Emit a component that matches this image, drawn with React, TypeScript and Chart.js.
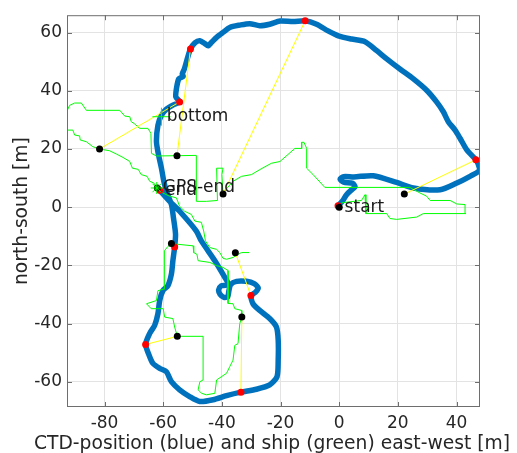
import { useEffect, useRef } from 'react';
import { Chart, registerables } from 'chart.js';
Chart.register(...registerables);

// axis ranges and ticks
const xMin = -92.8, xMax = 48.0, yMin = -68.7, yMax = 66.0;
const xTicks = [-80, -60, -40, -20, 0, 20, 40];
const yTicks = [-60, -40, -20, 0, 20, 40, 60];
const xTitle = 'CTD-position (blue) and ship (green) east-west [m]';
const yTitle = 'north-south [m]';

// CTD path (blue)
const ctdPathX = [-0.4, 1.2, 2.5, 4.5, 5.4, 4.6, 1.5, 0.3, 1.5, 5.0, 11.6, 19.6, 25.3, 34.4, 40.1, 44.6, 47.8, 47.4, 46.6, 43.5, 41.2, 39.5, 37.2, 35.5, 33.2, 29.8, 25.3, 20.7, 16.2, 12.8, 8.8, 4.2, -0.3, -3.8, -7.7, -11.6, -15.7, -20.2, -23.7, -27.1, -30.5, -33.9, -37.3, -39.6, -41.8, -43.5, -44.7, -45.8, -47.5, -49.2, -50.7, -51.8, -52.8, -53.5, -53.2, -54.7, -55.5, -55.7, -54.4, -56.7, -58.9, -60.6, -61.8, -62.3, -61.6, -60.6, -59.8, -58.9, -57.2, -56.5, -55.8, -56.1, -56.7, -57.2, -58.4, -60.1, -61.2, -61.8, -62.9, -64.6, -66.0, -64.8, -63.5, -61.2, -58.9, -57.2, -54.4, -51.0, -47.5, -43.0, -38.4, -33.5, -28.2, -23.7, -21.2, -20.8, -20.8, -21.4, -23.7, -27.1, -29.4, -30.1, -28.6, -27.6, -29.0, -31.6, -35.0, -37.0, -37.6, -38.0, -39.3, -40.6, -41.1, -40.2, -38.6, -38.1, -39.0, -42.4, -47.0, -48.7, -54.4, -57.8, -61.2];
const ctdPathY = [0.5, 2.2, 4.3, 6.2, 7.0, 8.2, 8.6, 9.6, 10.5, 10.4, 10.8, 8.5, 6.6, 6.0, 8.3, 10.6, 12.6, 14.8, 16.3, 19.7, 23.7, 26.5, 29.4, 32.8, 36.2, 40.2, 44.1, 47.5, 51.0, 53.8, 56.9, 57.8, 58.9, 60.6, 62.9, 64.1, 63.8, 64.0, 62.9, 62.4, 63.1, 62.6, 61.8, 60.1, 58.4, 56.7, 55.5, 56.2, 57.2, 56.5, 54.4, 51.0, 47.5, 45.8, 45.0, 44.1, 40.7, 37.9, 36.2, 35.1, 33.7, 31.6, 28.2, 22.5, 18.0, 13.4, 8.9, 5.5, 0.9, -3.7, -9.3, -13.7, -18.4, -23.0, -27.0, -28.7, -32.1, -36.6, -40.6, -43.4, -47.2, -50.9, -53.7, -55.4, -56.6, -60.0, -62.8, -65.1, -66.8, -66.2, -64.8, -63.6, -62.6, -61.1, -58.3, -52.6, -45.7, -41.2, -38.3, -35.5, -33.2, -30.4, -29.3, -27.8, -26.3, -25.5, -25.5, -26.6, -28.7, -30.8, -31.0, -30.0, -28.4, -27.0, -26.8, -25.8, -24.1, -18.4, -11.6, -8.2, -1.4, 2.0, 5.8];

// ship track (green), pieces
const shipNorthX = [0.8, 7.6, 8.8, 9.1, 16.2, 17.3, 19.6, 26.4, 28.7, 43.2, 42.9, 40.1, 37.8, 31.0, 29.8, 27.5, 24.1, -4.9, -8.9, -11.1, -11.1, -12.0, -12.8, -12.8, -15.1, -20.2, -23.1, -27.1, -29.9, -33.3, -36.2, -38.5, -39.6, -40.0, -39.6, -41.8, -41.5, -45.3, -48.5, -48.7, -55.3, -62.3, -64.0, -64.2, -65.2, -68.0, -69.7, -70.9, -71.4, -73.1, -74.8, -86.2, -87.9, -90.2, -91.9, -92.7, -92.7, -90.8, -90.2, -88.5, -88.3, -86.2, -84.0, -81.7, -78.3, -76.0, -73.7, -71.4, -70.5, -68.5, -67.5, -65.5, -64.6, -63.2, -62.2];
const shipNorthY = [1.5, 2.3, 4.3, -2.2, -2.2, -3.9, -4.2, -3.4, -2.2, -2.2, 0.9, 1.1, 2.3, 2.3, 3.8, 4.9, 6.8, 6.8, 11.2, 13.4, 20.2, 22.3, 22.3, 20.2, 20.2, 15.7, 15.1, 12.9, 11.2, 10.6, 8.9, 6.2, 4.5, 11.2, 13.4, 13.4, 2.3, 2.0, 2.0, 17.8, 17.7, 17.6, 18.5, 25.4, 27.1, 27.1, 28.6, 29.4, 31.1, 31.3, 33.3, 33.3, 35.8, 35.8, 35.0, 33.3, 26.5, 26.5, 24.8, 24.5, 23.1, 22.5, 20.8, 20.0, 19.4, 18.3, 17.1, 15.7, 13.4, 13.0, 11.2, 10.6, 8.9, 8.3, 6.6];
const shipDiagX = [-62.2, -60.1, -57.8, -55.5, -54.4, -52.7, -50.4, -49.2, -47.0, -46.2, -45.6, -44.1, -41.8, -40.7, -39.6, -38.4, -36.2, -34.5, -33.3, -30.7];
const shipDiagY = [6.6, 4.9, 3.8, 3.2, 0.3, -1.4, -2.5, -4.8, -5.2, -8.2, -11.6, -13.9, -14.5, -15.6, -17.6, -17.9, -17.3, -16.2, -15.6, -15.6];
const shipSouthX = [-57.2, -55.6, -49.8, -49.6, -48.5, -48.1, -44.1, -41.8, -39.6, -37.9, -37.9, -36.2, -35.6, -33.3, -33.2, -33.9, -34.5, -35.6, -36.2, -37.3, -38.4, -41.8, -42.4, -45.3, -46.9, -48.1, -47.5, -46.4, -46.4, -55.2, -56.1, -56.7, -59.5, -60.0, -64.1, -65.7, -62.3, -61.8, -59.5, -59.5, -59.7, -58.4, -57.2];
const shipSouthY = [-12.5, -12.7, -13.3, -15.6, -16.2, -18.4, -19.0, -20.1, -20.7, -21.8, -33.1, -33.2, -34.9, -35.5, -37.8, -40.0, -46.9, -47.5, -52.6, -54.8, -57.1, -59.4, -64.0, -64.5, -64.0, -62.8, -60.0, -59.4, -44.4, -44.4, -41.2, -38.3, -37.8, -34.9, -34.9, -33.2, -32.1, -28.7, -28.1, -22.4, -15.0, -13.5, -12.5];

// paired positions: CTD (red) and ship (black)
const ctdMarkX = [-0.4, 46.6, -11.6, -50.7, -54.4, -56.1, -30.1, -66.0, -33.5, -61.2];
const ctdMarkY = [0.5, 16.3, 64.1, 54.4, 36.2, -13.7, -30.4, -47.2, -63.6, 5.8];
const shipMarkX = [0, 22.2, -39.6, -55.3, -81.7, -57.2, -35.4, -55.2, -33.2, -62.0];
const shipMarkY = [0, 4.5, 4.5, 17.7, 20.0, -12.5, -15.7, -44.4, -37.8, 6.6];

// special markers
const bottomMarkX = [-60.6];
const bottomMarkY = [31.1];
const gpsEndMarkX = [-62.2];
const gpsEndMarkY = [6.6];

// text labels
const labelText = [' start', ' bottom', ' GPS-end', ' end'];
const labelX = [0, -60.6, -62.0, -61.2];
const labelY = [0, 31.1, 6.6, 5.8];

const FONT = '"DejaVu Sans", sans-serif';
const TXT = '#262626';

const zip = (xs: number[], ys: number[]) => xs.map((x, i) => ({ x, y: ys[i] }));

const overlayPlugin = {
  id: 'overlay',
  afterDatasetsDraw(chart: any) {
    const { ctx, chartArea: a, scales } = chart;
    const sx = scales.x, sy = scales.y;
    ctx.save();
    // text labels
    ctx.font = `17px ${FONT}`;
    ctx.fillStyle = '#1a1a1a';
    ctx.textAlign = 'left';
    ctx.textBaseline = 'middle';
    labelText.forEach((t, i) => {
      ctx.fillText(t, sx.getPixelForValue(labelX[i]), sy.getPixelForValue(labelY[i]));
    });
    // frame
    ctx.strokeStyle = '#6e6e6e';
    ctx.lineWidth = 1;
    ctx.strokeRect(a.left + 0.5, a.top + 0.5, a.right - a.left - 1, a.bottom - a.top - 1);
    // inward tick marks
    const tl = 5;
    ctx.beginPath();
    xTicks.forEach((v) => {
      const p = Math.round(sx.getPixelForValue(v)) + 0.5;
      ctx.moveTo(p, a.bottom); ctx.lineTo(p, a.bottom - tl);
      ctx.moveTo(p, a.top); ctx.lineTo(p, a.top + tl);
    });
    yTicks.forEach((v) => {
      const p = Math.round(sy.getPixelForValue(v)) + 0.5;
      ctx.moveTo(a.left, p); ctx.lineTo(a.left + tl, p);
      ctx.moveTo(a.right, p); ctx.lineTo(a.right - tl, p);
    });
    ctx.stroke();
    // x axis title (drawn without width compression)
    ctx.font = `18.7px ${FONT}`;
    ctx.fillStyle = TXT;
    ctx.textAlign = 'center';
    ctx.textBaseline = 'alphabetic';
    ctx.fillText(xTitle, (a.left + a.right) / 2 - 1.5, 449);
    ctx.restore();
  },
};

export default function App() {
  const ref = useRef<HTMLCanvasElement>(null);
  useEffect(() => {
    const yellow = ctdMarkX.map((_, i) => ({
      data: [{ x: shipMarkX[i], y: shipMarkY[i] }, { x: ctdMarkX[i], y: ctdMarkY[i] }],
      showLine: true,
      borderColor: '#ffff00',
      borderWidth: 1,
      pointRadius: 0,
      order: 8,
      clip: 0,
    }));
    const green = [
      [shipNorthX, shipNorthY],
      [shipDiagX, shipDiagY],
      [shipSouthX, shipSouthY],
    ].map(([xs, ys]) => ({
      data: zip(xs, ys),
      showLine: true,
      borderColor: '#00ff00',
      borderWidth: 1,
      pointRadius: 0,
      tension: 0,
      order: 9,
      clip: 0,
    }));
    const chart = new Chart(ref.current!, {
      type: 'scatter',
      data: {
        datasets: [
          {
            data: zip(ctdPathX, ctdPathY),
            showLine: true,
            borderColor: '#0072bd',
            borderWidth: 5.5,
            pointRadius: 0,
            tension: 0.25,
            borderJoinStyle: 'round',
            borderCapStyle: 'round',
            order: 10,
            clip: 0,
          } as any,
          ...green,
          ...yellow,
          {
            data: zip(ctdMarkX, ctdMarkY),
            showLine: false,
            pointRadius: 3.5,
            pointBackgroundColor: '#ff0000',
            pointBorderWidth: 0,
            order: 7,
          },
          {
            data: zip(shipMarkX, shipMarkY),
            showLine: false,
            pointRadius: 3.5,
            pointBackgroundColor: '#000000',
            pointBorderWidth: 0,
            order: 6,
          },
          {
            data: zip(bottomMarkX, bottomMarkY),
            showLine: false,
            pointStyle: 'cross',
            pointRadius: 9,
            pointBorderColor: '#00ff00',
            pointBorderWidth: 1,
            order: 5,
          },
          {
            data: zip(gpsEndMarkX, gpsEndMarkY),
            showLine: false,
            pointStyle: 'star',
            pointRadius: 6,
            pointBorderColor: '#00ff00',
            pointBorderWidth: 1,
            order: 5,
          },
        ],
      },
      options: {
        responsive: false,
        devicePixelRatio: 1,
        animation: false,
        events: [],
        layout: { padding: { left: 0, right: 37, top: 13, bottom: 0 } },
        plugins: { legend: { display: false }, tooltip: { enabled: false } },
        scales: {
          x: {
            type: 'linear',
            position: 'bottom',
            min: xMin,
            max: xMax,
            afterBuildTicks: (s: any) => { s.ticks = xTicks.map((v) => ({ value: v })); },
            afterFit: (s: any) => { s.height = 46; },
            ticks: { font: { family: FONT, size: 17 }, color: TXT, padding: 6, maxRotation: 0, autoSkip: false, callback: (v: any) => String(v) },
            grid: { color: '#e3e3e3', drawTicks: false },
            border: { display: false },
            title: { display: false },
          },
          y: {
            type: 'linear',
            position: 'left',
            min: yMin,
            max: yMax,
            afterBuildTicks: (s: any) => { s.ticks = yTicks.map((v) => ({ value: v })); },
            afterFit: (s: any) => { s.width = 67; },
            ticks: { font: { family: FONT, size: 17 }, color: TXT, padding: 5, autoSkip: false, callback: (v: any) => String(v) },
            grid: { color: '#e3e3e3', drawTicks: false },
            border: { display: false },
            title: { display: true, text: yTitle, font: { family: FONT, size: 18.7, lineHeight: 1 }, color: TXT, padding: { top: 13, bottom: 0 } },
          },
        },
      } as any,
      plugins: [overlayPlugin],
    });
    return () => chart.destroy();
  }, []);
  return (
    <div style={{ position: 'absolute', left: 0, top: 0, width: 517, height: 453, background: '#fff' }}>
      <canvas ref={ref} width={517} height={453} style={{ display: 'block', width: 517, height: 453 }} />
    </div>
  );
}
